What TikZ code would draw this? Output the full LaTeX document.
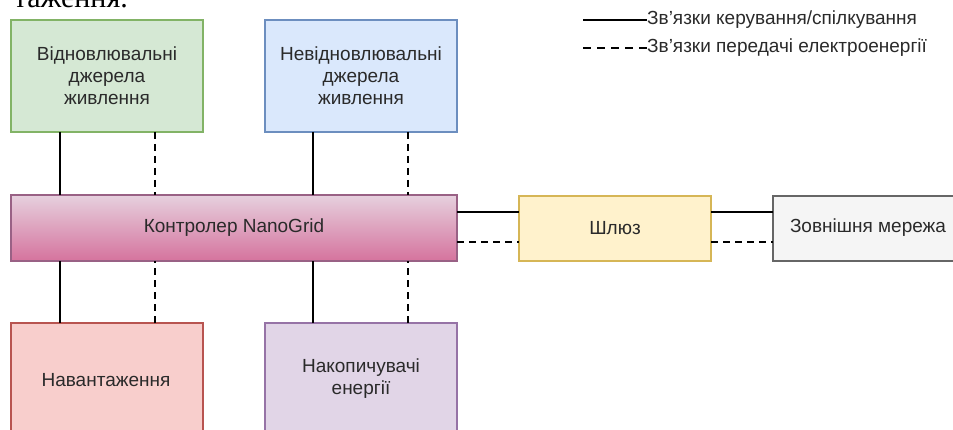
\documentclass[tikz,border=0pt]{standalone}
\usepackage{fontspec}
\setmainfont{Liberation Sans}
\newfontfamily\docserif{Liberation Serif}
\definecolor{txt}{HTML}{2A2A2A}
\definecolor{grnF}{HTML}{D5E8D4}\definecolor{grnD}{HTML}{82B366}
\definecolor{bluF}{HTML}{DAE8FC}\definecolor{bluD}{HTML}{6C8EBF}
\definecolor{pnkT}{HTML}{E6D0DE}\definecolor{pnkB}{HTML}{D5739D}\definecolor{pnkD}{HTML}{996185}
\definecolor{ylwF}{HTML}{FFF2CC}\definecolor{ylwD}{HTML}{D6B656}
\definecolor{gryF}{HTML}{F5F5F5}\definecolor{gryD}{HTML}{666666}
\definecolor{redF}{HTML}{F8CECC}\definecolor{redD}{HTML}{B85450}
\definecolor{prpF}{HTML}{E1D5E7}\definecolor{prpD}{HTML}{9673A6}
\tikzset{
  lbl/.style={text=txt, font=\fontsize{19}{22}\selectfont, align=center},
  block/.style={lbl, draw, line width=2pt, minimum width=192pt, inner sep=0pt, outer sep=0pt},
  tall/.style={block, minimum height=112pt},
  flat/.style={block, minimum height=65pt},
  ctl/.style={line width=2pt, black},
  pwr/.style={line width=2pt, black, dash pattern=on 7pt off 5pt},
  legtxt/.style={text=txt, font=\fontsize{19}{22}\selectfont, inner sep=0pt, anchor=west}
}
\begin{document}
\begin{tikzpicture}[x=1pt,y=-1pt]
\useasboundingbox (0,0) rectangle (953,430);
\clip (0,0) rectangle (953,430);
\fill[white] (0,0) rectangle (953,430);

% tail of the preceding caption line
\node[anchor=base east, inner sep=0pt, font=\docserif\fontsize{30}{32}\selectfont] (cap) at (128,8) {таження.};

% sources
\node[tall, fill=grnF, draw=grnD, anchor=north west] (ren) at (11,20) {Відновлювальні\\джерела\\живлення};
\node[tall, fill=bluF, draw=bluD, anchor=north west] (nren) at (265,20) {Невідновлювальні\\джерела\\живлення};

% controller
\node[block, minimum width=446pt, minimum height=66pt, top color=pnkT, bottom color=pnkB, draw=pnkD, anchor=north west] (ctrl) at (11,195) {Контролер NanoGrid};

% gateway and external grid
\node[flat, fill=ylwF, draw=ylwD, anchor=north west] (gw) at (519,196) {Шлюз};
\node[flat, fill=gryF, draw=gryD, anchor=north west] (ext) at (773,196) {};
\node[lbl, inner sep=0pt] (extlbl) at (868,228) {Зовнішня мережа};

% loads and storage
\node[block, minimum height=120pt, fill=redF, draw=redD, anchor=north west] (load) at (11,323) {};
\node[block, minimum height=120pt, fill=prpF, draw=prpD, anchor=north west] (stor) at (265,323) {};
\node[lbl, inner sep=0pt] (loadlbl) at (106,380) {Навантаження};
\node[lbl, inner sep=0pt] (storlbl) at (361,379) {Накопичувачі\\енергії};

% vertical links
\draw[ctl] ([xshift=49pt]ren.south west) -- ([xshift=49pt]ren.south west |- ctrl.north);
\draw[pwr] ([xshift=-48pt]ren.south east) -- ([xshift=-48pt]ren.south east |- ctrl.north);
\draw[ctl] ([xshift=48pt]nren.south west) -- ([xshift=48pt]nren.south west |- ctrl.north);
\draw[pwr] ([xshift=-49pt]nren.south east) -- ([xshift=-49pt]nren.south east |- ctrl.north);
\draw[ctl] ([xshift=49pt]load.north west) -- ([xshift=49pt]load.north west |- ctrl.south);
\draw[pwr] ([xshift=-48pt]load.north east) -- ([xshift=-48pt]load.north east |- ctrl.south);
\draw[ctl] ([xshift=48pt]stor.north west) -- ([xshift=48pt]stor.north west |- ctrl.south);
\draw[pwr] ([xshift=-49pt]stor.north east) -- ([xshift=-49pt]stor.north east |- ctrl.south);

% horizontal links
\draw[ctl] ([yshift=16pt]ctrl.east) -- ([yshift=16pt]ctrl.east -| gw.west);
\draw[pwr] ([yshift=-14pt]ctrl.east) -- ([yshift=-14pt]ctrl.east -| gw.west);
\draw[ctl] ([yshift=16pt]gw.east) -- ([yshift=16pt]gw.east -| ext.west);
\draw[pwr] ([yshift=-14pt]gw.east) -- ([yshift=-14pt]gw.east -| ext.west);

% legend
\node[legtxt] (leg1) at (647,20) {Зв'язки керування/спілкування};
\node[legtxt] (leg2) at (647,48) {Зв'язки передачі електроенергії};
\coordinate (l1s) at (583,20);
\coordinate (l2s) at (583,48);
\draw[ctl] (l1s) -- (leg1.west);
\draw[pwr, dash pattern=on 8pt off 6pt] (l2s) -- (leg2.west);
\end{tikzpicture}
\end{document}
